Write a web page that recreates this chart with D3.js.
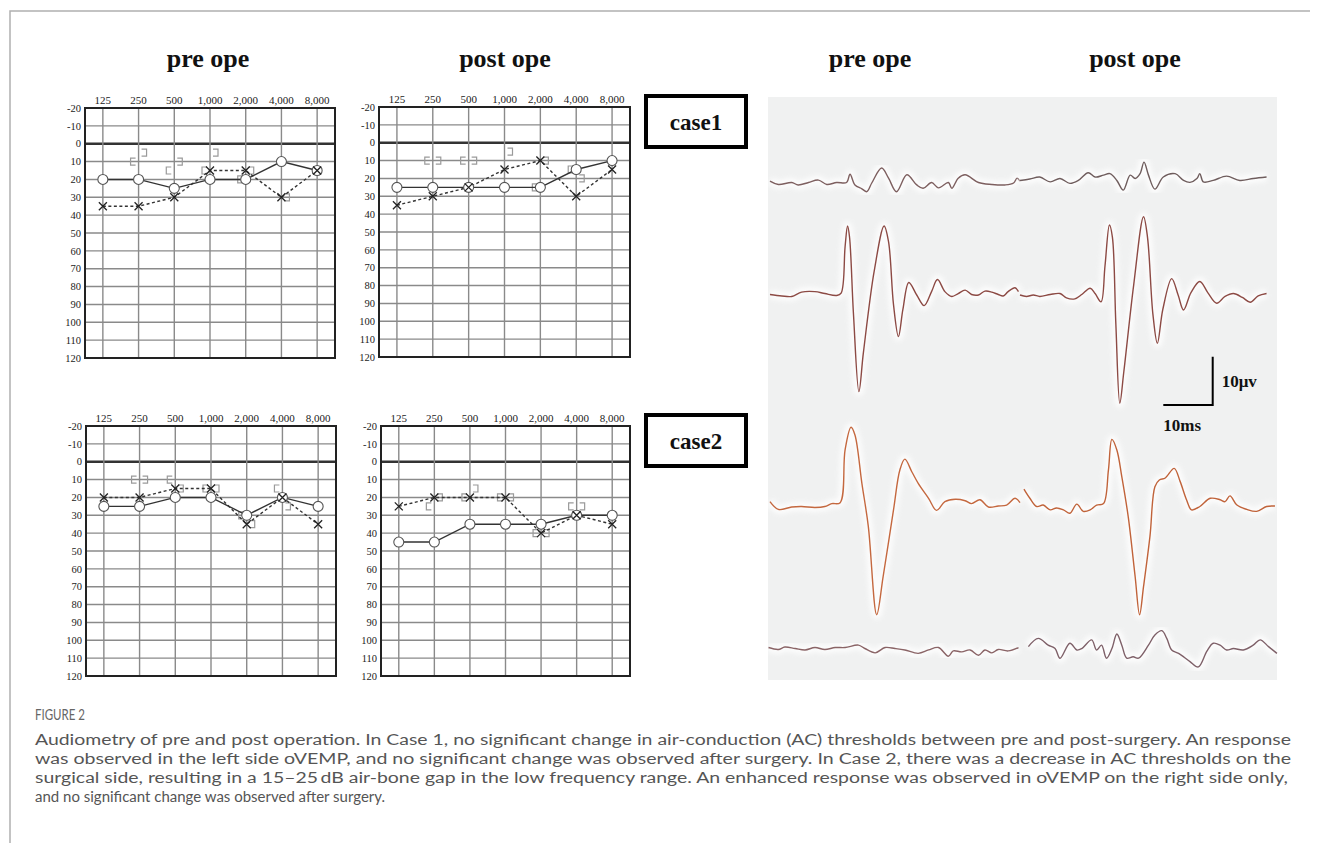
<!DOCTYPE html>
<html><head><meta charset="utf-8">
<script src="https://cdn.jsdelivr.net/npm/d3@7"></script>
<style>body{margin:0;background:#fff}svg{display:block}</style>
</head><body>
<svg id="c" width="1320" height="843"></svg>
<script>
// ---------- DATA ----------
const freqs = ["125","250","500","1,000","2,000","4,000","8,000"];
const dbTicks = [-20,-10,0,10,20,30,40,50,60,70,80,90,100,110,120];

// Case 1 pre
const c1PreRightAC = [20,20,25,20,20,10,15];
const c1PreLeftAC  = [35,35,30,15,15,30,15];
const c1PreRightBC = [null,10,15,15,20,null,null];
const c1PreLeftBC  = [null,5,10,5,15,30,null];
// Case 1 post
const c1PostRightAC = [25,25,25,25,25,15,10];
const c1PostLeftAC  = [35,30,25,15,10,30,15];
const c1PostRightBC = [null,10,10,null,25,15,null];
const c1PostLeftBC  = [null,10,10,5,10,20,null];
// Case 2 pre
const c2PreRightAC = [25,25,20,20,30,20,25];
const c2PreLeftAC  = [20,20,15,15,35,20,35];
const c2PreRightBC = [null,10,10,15,30,15,null];
const c2PreLeftBC  = [null,10,15,15,35,25,null];
// Case 2 post
const c2PostRightAC = [45,45,35,35,35,30,30];
const c2PostLeftAC  = [25,20,20,20,40,30,35];
const c2PostRightBC = [null,25,20,20,40,25,null];
const c2PostLeftBC  = [null,20,15,20,40,25,null];

// oVEMP traces: [time ms, amplitude µV]
const wave1Pre = [[0.4,0.4],[2.1,-0.3],[4.8,0.1],[6.1,-0.4],[8.2,0.1],[10.2,0.6],[11.9,-0.3],[13.9,0.1],[15.9,0.1],[16.6,1.8],[17.6,-0.4],[19.0,-1.2],[20.0,-1.8],[21.0,0],[23.0,3.1],[24.4,1.0],[26.0,-1.8],[28.1,1.7],[30.1,-0.4],[31.4,-1.1],[33.1,0.1],[34.5,-1.0],[36.5,0.1],[37.2,-1.1],[38.5,1.0],[39.9,1.7],[42.6,0.1],[45.3,-0.3],[48.0,-0.4],[49.7,0],[50.4,1.0],[51.0,0.4]];
const wave1Post = [[0,-0.4],[2.0,-0.1],[4.0,0.3],[6.1,-0.7],[8.1,0],[10.1,-1.0],[11.8,-0.4],[13.8,1.2],[15.2,0.3],[16.9,0.7],[18.2,1.0],[19.6,-0.4],[20.9,-2.4],[22.3,0.7],[23.3,0],[24.3,1.0],[25.1,3.4],[26.0,0.7],[27.3,-2.2],[29.0,0.3],[31.4,1.0],[33.1,-0.4],[34.4,-0.8],[35.8,0],[36.4,1.0],[37.1,-0.7],[39.1,-0.4],[41.8,0.5],[44.5,-0.4],[47.2,0],[49.9,0.3]];
const wave2Pre = [[0.4,0.1],[2.8,-0.2],[4.8,-0.3],[6.8,0.6],[9.5,0.7],[11.5,0.3],[13.9,-0.1],[14.8,0.4],[15.6,10],[16.1,14.3],[16.5,12],[17.3,-4],[18.4,-20.0],[19.3,-12],[21.5,5],[23.5,14.3],[24.4,11],[25.4,-2],[26.4,-8.6],[27.3,-3],[28.5,2.6],[30.1,0],[31.6,-2.2],[33.1,0.7],[34.3,3.2],[35.8,0.7],[37.2,-0.3],[38.5,0.3],[39.9,1.0],[41.2,0.1],[42.6,0],[43.9,0.8],[45.3,0.6],[46.6,0.1],[47.6,-0.2],[48.6,0.7],[50.0,1.5],[50.7,0.7]];
const wave2Post = [[0,0],[1.3,-0.3],[2.7,0],[4.0,-0.3],[6.1,0.1],[8.1,0.3],[9.4,-0.6],[11.1,-0.8],[12.5,0.1],[14.2,1.4],[15.2,0.3],[16.4,-1.4],[17.2,6],[18.1,14.5],[18.7,12],[19.4,-6],[20.2,-22.4],[21.0,-16],[23.0,2],[25.0,16.2],[25.8,12],[26.9,-4],[27.8,-10.0],[28.9,-3],[30.7,3.4],[32.0,0],[33.1,-3.1],[34.6,0.5],[36.4,2.8],[38.0,0.5],[39.8,-1.7],[41.5,-0.3],[43.2,0.3],[45.0,-0.5],[46.6,-1.5],[48.2,-0.2],[49.9,0.3]];
const wave3Pre = [[0.4,1.0],[2.1,-0.6],[4.8,-0.1],[6.8,0],[9.5,-0.2],[11.5,0],[12.9,0.6],[14.6,0.8],[15.6,11.7],[16.8,16.4],[17.6,14.8],[19.0,4.8],[20.3,-4.1],[22.0,-22.4],[23.3,-14.5],[25.4,-0.7],[26.7,7.6],[27.7,9.8],[29.1,7.2],[30.4,4.8],[32.5,1.7],[34.1,-0.8],[35.8,1.0],[37.9,1.5],[39.9,1.2],[41.2,0.6],[42.9,1.4],[44.6,-0.1],[46.6,0.1],[48.3,0.3],[50.0,1.7],[51.0,0.8]];
const wave3Post = [[0.8,3.6],[2.0,1.7],[3.4,0],[4.7,0.3],[6.1,-0.7],[7.4,-0.3],[8.8,-0.7],[10.1,-1.4],[11.5,0.5],[12.8,-1.0],[14.2,-0.7],[15.5,0.3],[16.9,0.6],[17.9,7.6],[18.6,13.9],[19.6,11.7],[20.6,6.2],[21.9,-2.1],[23.3,-14.5],[24.2,-22.4],[25.0,-16.6],[26.3,-6.2],[27.3,4.1],[28.2,5.5],[29.4,5.9],[31.2,7.9],[32.4,5.2],[33.7,1.4],[34.7,-0.7],[36.4,0],[38.5,1.7],[40.5,1.4],[41.5,1.0],[42.5,2.2],[43.9,0.3],[45.9,-0.6],[47.9,-1.0],[49.9,0],[51.6,0.1]];
const wave4Pre = [[0.1,0.2],[2.1,-0.2],[3.4,0.3],[5.5,0],[7.5,-0.3],[9.5,0.2],[11.5,-0.2],[13.6,0.2],[15.6,0.2],[18.3,0.7],[19.6,0],[21.7,-0.9],[23.7,0.2],[25.7,0],[27.7,-0.3],[30.4,-1.0],[32.5,-0.3],[34.5,0.2],[36.5,-1.6],[37.5,-0.5],[39.2,-0.7],[40.9,-0.3],[42.6,-1.4],[43.9,-0.3],[45.3,-0.9],[46.6,-0.2],[48.6,-0.5],[50.7,0.2]];
const wave4Post = [[1.7,0.7],[3.7,2.4],[5.7,1.0],[7.1,0.3],[8.1,-1.7],[10.1,1.4],[11.5,0],[12.5,0.3],[14.5,2.1],[15.5,0],[16.5,1.0],[17.5,-1.7],[18.6,0.3],[19.6,3.3],[20.6,1.0],[21.6,-1.7],[22.9,-1.4],[24.0,-1.7],[26.0,1.0],[27.3,3.1],[28.7,4.0],[29.7,2.4],[30.7,0],[32.1,-0.7],[34.4,-2.4],[36.1,-3.5],[37.8,-0.3],[39.1,1.4],[40.5,1.0],[41.8,0],[43.2,0.3],[45.2,0],[47.2,1.0],[48.6,2.1],[50.3,0.7],[52.0,-0.7]];

const titles = ["pre ope","post ope","pre ope","post ope"];
const caseLabels = ["case1","case2"];
const captionHead = "FIGURE 2";
const captionLines = [
 "Audiometry of pre and post operation. In Case 1, no significant change in air-conduction (AC) thresholds between pre and post-surgery. An response",
 "was observed in the left side oVEMP, and no significant change was observed after surgery. In Case 2, there was a decrease in AC thresholds on the",
 "surgical side, resulting in a 15\u201325\u2009dB air-bone gap in the low frequency range. An enhanced response was observed in oVEMP on the right side only,",
 "and no significant change was observed after surgery."
];

// ---------- DRAW ----------
const svg = d3.select("#c");
const serif = "'Liberation Serif','Times New Roman',serif";

// frame
svg.append("path").attr("d","M10,843 V11 H1310").attr("fill","none").attr("stroke","#b0b0b0").attr("stroke-width",1.5);

// titles
const titleX = [208,505,870,1135];
svg.selectAll("text.title").data(titles).join("text").attr("class","title")
  .attr("x",(d,i)=>titleX[i]).attr("y",67).attr("text-anchor","middle")
  .attr("font-family",serif).attr("font-weight","bold").attr("font-size",26).attr("fill","#111").text(d=>d);

// audiograms
const panels = [
  {l:85,r:335,t:108,b:358,R:c1PreRightAC,L:c1PreLeftAC,RB:c1PreRightBC,LB:c1PreLeftBC},
  {l:379,r:630,t:107,b:357,R:c1PostRightAC,L:c1PostLeftAC,RB:c1PostRightBC,LB:c1PostLeftBC},
  {l:86,r:336,t:426,b:676,R:c2PreRightAC,L:c2PreLeftAC,RB:c2PreRightBC,LB:c2PreLeftBC},
  {l:381,r:630,t:426,b:676,R:c2PostRightAC,L:c2PostLeftAC,RB:c2PostRightBC,LB:c2PostLeftBC}
];
panels.forEach(p=>{
  const x = d3.scalePoint().domain(freqs).range([p.l,p.r]).padding(0.5);
  const y = d3.scaleLinear().domain([-20,120]).range([p.t,p.b]);
  const g = svg.append("g");
  g.selectAll("line.h").data(dbTicks).join("line").attr("x1",p.l).attr("x2",p.r)
    .attr("y1",d=>y(d)).attr("y2",d=>y(d)).attr("stroke",d=>d===0?"#333":"#8a8a8a").attr("stroke-width",d=>d===0?2.6:1.4);
  g.selectAll("line.v").data(freqs).join("line").attr("y1",p.t).attr("y2",p.b)
    .attr("x1",d=>x(d)).attr("x2",d=>x(d)).attr("stroke","#8a8a8a").attr("stroke-width",1.4);
  g.append("rect").attr("x",p.l).attr("y",p.t).attr("width",p.r-p.l).attr("height",p.b-p.t)
    .attr("fill","none").attr("stroke","#222").attr("stroke-width",2);
  g.selectAll("text.f").data(freqs).join("text").attr("x",d=>x(d)).attr("y",p.t-4)
    .attr("text-anchor","middle").attr("font-family",serif).attr("font-size",11).attr("fill","#222").text(d=>d);
  g.selectAll("text.db").data(dbTicks).join("text").attr("x",p.l-4).attr("y",d=>y(d)).attr("dy","0.35em")
    .attr("text-anchor","end").attr("font-family",serif).attr("font-size",10.5).attr("fill","#222").text(d=>d);
  const br = (arr,side)=>{
    g.selectAll(null).data(arr.map((v,i)=>[freqs[i],v]).filter(d=>d[1]!==null)).join("path")
      .attr("d",d=>{const cx=x(d[0]),cy=y(d[1]);
        return side<0?`M${cx-3},${cy-3.5}H${cx-8}V${cy+3.5}H${cx-3}`:`M${cx+3},${cy-3.5}H${cx+8}V${cy+3.5}H${cx+3}`;})
      .attr("fill","none").attr("stroke","#9a9a9a").attr("stroke-width",1.2);
  };
  br(p.RB,-1); br(p.LB,1);
  const line = d3.line().x((d,i)=>x(freqs[i])).y(d=>y(d));
  g.append("path").attr("d",line(p.L)).attr("fill","none").attr("stroke","#333").attr("stroke-width",1.4).attr("stroke-dasharray","3,2.5");
  g.append("path").attr("d",line(p.R)).attr("fill","none").attr("stroke","#333").attr("stroke-width",1.4);
  g.selectAll("circle").data(p.R).join("circle").attr("cx",(d,i)=>x(freqs[i])).attr("cy",d=>y(d)).attr("r",5)
    .attr("fill","#fff").attr("stroke","#555").attr("stroke-width",1.1);
  g.selectAll("path.x").data(p.L).join("path").attr("class","x")
    .attr("d",(d,i)=>{const cx=x(freqs[i]),cy=y(d),s=4;return `M${cx-s},${cy-s}L${cx+s},${cy+s}M${cx-s},${cy+s}L${cx+s},${cy-s}`;})
    .attr("stroke","#222").attr("stroke-width",1.3);
});

// case labels
[{y:96,t:"case1"},{y:415,t:"case2"}].forEach((c,i)=>{
  svg.append("rect").attr("x",646).attr("y",c.y).attr("width",100).attr("height",51)
    .attr("fill","#fff").attr("stroke","#000").attr("stroke-width",4);
  svg.append("text").attr("x",696).attr("y",c.y+34).attr("text-anchor","middle")
    .attr("font-family",serif).attr("font-weight","bold").attr("font-size",23).attr("fill","#111").text(caseLabels[i]);
});

// oVEMP panel
svg.append("rect").attr("x",768).attr("y",97).attr("width",509).attr("height",583).attr("fill","#f0f1f1");
const defs = svg.append("defs");
defs.append("filter").attr("id","blur").append("feGaussianBlur").attr("stdDeviation",2.5);
const xPre = d3.scaleLinear().domain([0,51]).range([768,1020]);
const xPost = d3.scaleLinear().domain([0,51]).range([1020,1272]);
const rows = [
  {pre:wave1Pre,post:wave1Post,bPre:183,bPost:178.5,col:"#7d5f5f",colPost:"#6f5d5d"},
  {pre:wave2Pre,post:wave2Post,bPre:295,bPost:295,col:"#8c4a44",colPost:"#8c4a44"},
  {pre:wave3Pre,post:wave3Post,bPre:506.5,bPost:506.5,col:"#c4683f",colPost:"#c0633a"},
  {pre:wave4Pre,post:wave4Post,bPre:648.5,bPost:650,col:"#8a6466",colPost:"#7e6068"}
];
rows.forEach(r=>{
  [[r.pre,xPre,r.bPre,r.col],[r.post,xPost,r.bPost,r.colPost]].forEach(([data,xs,base,col])=>{
    const ys = d3.scaleLinear().domain([0,10]).range([base,base-48.3]);
    const ln = d3.line().x(d=>xs(d[0])).y(d=>ys(d[1])).curve(d3.curveCatmullRom.alpha(0.5));
    svg.append("path").attr("d",ln(data)).attr("fill","none").attr("stroke","#fff").attr("stroke-width",9)
      .attr("opacity",0.8).attr("filter","url(#blur)");
    svg.append("path").attr("d",ln(data)).attr("fill","none").attr("stroke",col).attr("stroke-width",1.4);
  });
});
// scale bar: 10 ms x 10 µV
const barY = d3.scaleLinear().domain([0,10]).range([405,405-48.3]);
svg.append("path").attr("d",`M${xPost(29)},${barY(0)}H${xPost(39)}V${barY(10)}`)
  .attr("fill","none").attr("stroke","#000").attr("stroke-width",2);
svg.append("text").attr("x",xPost(39)+9).attr("y",barY(5)+6).attr("font-family",serif).attr("font-weight","bold")
  .attr("font-size",17).attr("fill","#111").text("10\u03bcv");
svg.append("text").attr("x",xPost(29)).attr("y",431).attr("font-family",serif).attr("font-weight","bold")
  .attr("font-size",17).attr("fill","#111").text("10ms");

// caption
const sans = "Lato,'Open Sans',sans-serif";
svg.append("text").attr("x",35).attr("y",720).attr("font-family",sans).attr("font-size",14.5).attr("fill","#666")
  .attr("textLength",50).attr("lengthAdjust","spacingAndGlyphs").text(captionHead);
const lineLens = [1256,1256,1253,350];
captionLines.forEach((t,i)=>{
  svg.append("text").attr("x",35).attr("y",745+i*19).attr("font-family",sans).attr("font-size",15.5).attr("fill","#555")
    .attr("textLength",lineLens[i]).attr("lengthAdjust","spacingAndGlyphs").text(t);
});
</script>
</body></html>
